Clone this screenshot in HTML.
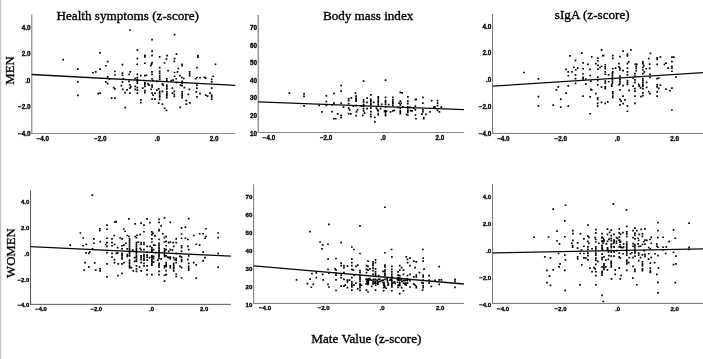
<!DOCTYPE html>
<html><head><meta charset="utf-8"><title>Figure</title>
<style>
html,body{margin:0;padding:0;background:#fff;}
body{width:703px;height:359px;overflow:hidden;}
svg{display:block;}
.t{font-family:"Liberation Serif",serif;font-size:13.4px;fill:#000;stroke:#000;stroke-width:0.35px;}
.k{font-family:"Liberation Sans",sans-serif;font-weight:bold;fill:#000;stroke:#000;stroke-width:0.3px;}
</style></head><body>
<svg width="703" height="359" viewBox="0 0 703 359">
<rect x="0" y="0" width="703" height="359" fill="#fff"/>
<rect x="0" y="0" width="1.2" height="359" fill="#c6c6c6"/>
<rect x="1.2" y="0" width="0.8" height="359" fill="#ededed"/>

<g id="panel1" style="font-size:6.3px">
<path d="M31.7 14.5V133.7" stroke="#a0a0a0" stroke-width="1.5" fill="none"/>
<path d="M30.95 133.45H235.2" stroke="#8c8c8c" stroke-width="1.0" fill="none"/>
<text class="k" x="30.4" y="29.91" transform="rotate(0.02 30.4 29.91)" text-anchor="end">4.0</text>
<text class="k" x="30.4" y="56.37" transform="rotate(0.02 30.4 56.37)" text-anchor="end">2.0</text>
<text class="k" x="30.4" y="82.83" transform="rotate(0.02 30.4 82.83)" text-anchor="end">.0</text>
<text class="k" x="30.4" y="109.29" transform="rotate(0.02 30.4 109.29)" text-anchor="end">−2.0</text>
<text class="k" x="30.4" y="135.76" transform="rotate(0.02 30.4 135.76)" text-anchor="end">−4.0</text>
<text class="k" x="42.8" y="141.16" transform="rotate(0.02 42.8 141.16)" text-anchor="middle">−4.0</text>
<text class="k" x="100.2" y="141.16" transform="rotate(0.02 100.2 141.16)" text-anchor="middle">−2.0</text>
<text class="k" x="157.5" y="141.16" transform="rotate(0.02 157.5 141.16)" text-anchor="middle">.0</text>
<text class="k" x="214.1" y="141.16" transform="rotate(0.02 214.1 141.16)" text-anchor="middle">2.0</text>
<path class="p" fill="#000" d="M129.11 29.16h1.7v1.7h-1.7zM136.50 49.22h1.7v1.7h-1.7zM99.28 52.10h1.7v1.7h-1.7zM62.30 58.87h1.7v1.7h-1.7zM136.50 57.74h1.7v1.7h-1.7zM106.80 60.75h1.7v1.7h-1.7zM104.92 64.89h1.7v1.7h-1.7zM121.59 63.76h1.7v1.7h-1.7zM136.25 63.38h1.7v1.7h-1.7zM76.96 68.27h1.7v1.7h-1.7zM99.28 68.27h1.7v1.7h-1.7zM173.74 33.80h1.7v1.7h-1.7zM151.18 38.82h1.7v1.7h-1.7zM151.18 50.22h1.7v1.7h-1.7zM175.62 53.36h1.7v1.7h-1.7zM144.03 54.61h1.7v1.7h-1.7zM144.03 56.11h1.7v1.7h-1.7zM151.18 54.86h1.7v1.7h-1.7zM158.82 56.11h1.7v1.7h-1.7zM166.22 54.86h1.7v1.7h-1.7zM165.59 58.24h1.7v1.7h-1.7zM173.74 57.74h1.7v1.7h-1.7zM173.49 60.50h1.7v1.7h-1.7zM197.05 54.86h1.7v1.7h-1.7zM197.05 56.36h1.7v1.7h-1.7zM144.03 62.38h1.7v1.7h-1.7zM151.18 61.75h1.7v1.7h-1.7zM150.67 63.26h1.7v1.7h-1.7zM149.92 64.89h1.7v1.7h-1.7zM163.71 62.13h1.7v1.7h-1.7zM181.26 63.38h1.7v1.7h-1.7zM181.26 64.89h1.7v1.7h-1.7zM214.60 63.38h1.7v1.7h-1.7zM158.82 66.77h1.7v1.7h-1.7zM177.50 67.65h1.7v1.7h-1.7zM196.05 66.77h1.7v1.7h-1.7zM92.01 71.91h1.7v1.7h-1.7zM94.89 71.03h1.7v1.7h-1.7zM114.07 70.65h1.7v1.7h-1.7zM114.07 74.16h1.7v1.7h-1.7zM121.59 72.28h1.7v1.7h-1.7zM121.59 74.41h1.7v1.7h-1.7zM129.36 71.03h1.7v1.7h-1.7zM128.36 73.54h1.7v1.7h-1.7zM136.50 73.54h1.7v1.7h-1.7zM140.01 74.79h1.7v1.7h-1.7zM106.80 76.04h1.7v1.7h-1.7zM108.68 78.18h1.7v1.7h-1.7zM122.46 77.67h1.7v1.7h-1.7zM134.37 77.67h1.7v1.7h-1.7zM136.50 76.67h1.7v1.7h-1.7zM136.50 78.55h1.7v1.7h-1.7zM136.50 80.43h1.7v1.7h-1.7zM136.50 82.31h1.7v1.7h-1.7zM76.96 81.06h1.7v1.7h-1.7zM104.92 81.06h1.7v1.7h-1.7zM106.80 82.69h1.7v1.7h-1.7zM121.59 81.06h1.7v1.7h-1.7zM128.11 80.43h1.7v1.7h-1.7zM120.58 84.82h1.7v1.7h-1.7zM129.11 83.94h1.7v1.7h-1.7zM129.99 86.07h1.7v1.7h-1.7zM129.11 87.33h1.7v1.7h-1.7zM134.37 85.45h1.7v1.7h-1.7zM112.81 86.70h1.7v1.7h-1.7zM114.07 87.95h1.7v1.7h-1.7zM121.84 88.58h1.7v1.7h-1.7zM126.23 88.96h1.7v1.7h-1.7zM134.37 88.58h1.7v1.7h-1.7zM136.50 86.70h1.7v1.7h-1.7zM136.50 89.21h1.7v1.7h-1.7zM136.50 92.34h1.7v1.7h-1.7zM141.89 87.33h1.7v1.7h-1.7zM124.34 91.71h1.7v1.7h-1.7zM129.11 92.34h1.7v1.7h-1.7zM76.96 94.47h1.7v1.7h-1.7zM97.40 92.72h1.7v1.7h-1.7zM99.28 92.34h1.7v1.7h-1.7zM110.81 97.35h1.7v1.7h-1.7zM114.07 97.35h1.7v1.7h-1.7zM140.01 98.98h1.7v1.7h-1.7zM140.01 101.74h1.7v1.7h-1.7zM124.34 106.75h1.7v1.7h-1.7zM144.03 74.79h1.7v1.7h-1.7zM145.66 74.41h1.7v1.7h-1.7zM144.03 81.68h1.7v1.7h-1.7zM144.03 83.57h1.7v1.7h-1.7zM144.03 85.45h1.7v1.7h-1.7zM144.03 89.83h1.7v1.7h-1.7zM144.03 91.71h1.7v1.7h-1.7zM147.16 82.94h1.7v1.7h-1.7zM148.17 84.19h1.7v1.7h-1.7zM151.18 71.03h1.7v1.7h-1.7zM151.18 73.54h1.7v1.7h-1.7zM151.18 77.92h1.7v1.7h-1.7zM152.18 79.80h1.7v1.7h-1.7zM151.18 84.19h1.7v1.7h-1.7zM151.18 86.07h1.7v1.7h-1.7zM150.30 88.58h1.7v1.7h-1.7zM151.18 92.34h1.7v1.7h-1.7zM152.18 94.22h1.7v1.7h-1.7zM154.06 92.34h1.7v1.7h-1.7zM151.18 98.23h1.7v1.7h-1.7zM154.06 98.23h1.7v1.7h-1.7zM158.82 70.40h1.7v1.7h-1.7zM158.82 72.28h1.7v1.7h-1.7zM158.82 74.79h1.7v1.7h-1.7zM158.82 76.67h1.7v1.7h-1.7zM158.82 78.55h1.7v1.7h-1.7zM155.94 80.43h1.7v1.7h-1.7zM157.82 87.95h1.7v1.7h-1.7zM155.94 89.21h1.7v1.7h-1.7zM158.82 90.46h1.7v1.7h-1.7zM158.82 92.34h1.7v1.7h-1.7zM158.82 94.22h1.7v1.7h-1.7zM158.82 96.10h1.7v1.7h-1.7zM158.82 98.61h1.7v1.7h-1.7zM161.58 82.94h1.7v1.7h-1.7zM162.21 84.19h1.7v1.7h-1.7zM161.58 90.46h1.7v1.7h-1.7zM157.82 102.37h1.7v1.7h-1.7zM161.58 103.24h1.7v1.7h-1.7zM167.22 69.78h1.7v1.7h-1.7zM165.97 77.92h1.7v1.7h-1.7zM165.97 79.80h1.7v1.7h-1.7zM165.97 84.19h1.7v1.7h-1.7zM165.97 86.07h1.7v1.7h-1.7zM165.97 87.95h1.7v1.7h-1.7zM165.97 91.09h1.7v1.7h-1.7zM165.97 92.97h1.7v1.7h-1.7zM165.97 94.85h1.7v1.7h-1.7zM165.97 96.73h1.7v1.7h-1.7zM171.61 87.33h1.7v1.7h-1.7zM163.71 107.38h1.7v1.7h-1.7zM165.59 109.51h1.7v1.7h-1.7zM173.74 71.66h1.7v1.7h-1.7zM176.62 71.03h1.7v1.7h-1.7zM173.74 75.42h1.7v1.7h-1.7zM175.37 77.92h1.7v1.7h-1.7zM170.35 79.80h1.7v1.7h-1.7zM172.23 79.18h1.7v1.7h-1.7zM175.74 81.68h1.7v1.7h-1.7zM173.49 90.46h1.7v1.7h-1.7zM171.61 92.34h1.7v1.7h-1.7zM173.49 93.59h1.7v1.7h-1.7zM173.49 95.47h1.7v1.7h-1.7zM179.13 74.79h1.7v1.7h-1.7zM181.01 76.67h1.7v1.7h-1.7zM182.89 77.67h1.7v1.7h-1.7zM181.26 80.43h1.7v1.7h-1.7zM181.26 82.31h1.7v1.7h-1.7zM179.75 84.19h1.7v1.7h-1.7zM181.26 84.82h1.7v1.7h-1.7zM183.51 86.70h1.7v1.7h-1.7zM181.26 91.09h1.7v1.7h-1.7zM181.26 92.97h1.7v1.7h-1.7zM181.26 94.85h1.7v1.7h-1.7zM181.26 96.73h1.7v1.7h-1.7zM179.38 106.50h1.7v1.7h-1.7zM188.78 71.03h1.7v1.7h-1.7zM188.78 72.91h1.7v1.7h-1.7zM188.78 74.79h1.7v1.7h-1.7zM188.53 88.58h1.7v1.7h-1.7zM187.53 93.59h1.7v1.7h-1.7zM185.40 99.86h1.7v1.7h-1.7zM185.40 103.24h1.7v1.7h-1.7zM189.16 101.99h1.7v1.7h-1.7zM196.05 76.67h1.7v1.7h-1.7zM194.80 77.92h1.7v1.7h-1.7zM199.18 76.92h1.7v1.7h-1.7zM196.05 84.19h1.7v1.7h-1.7zM196.05 87.33h1.7v1.7h-1.7zM195.42 91.09h1.7v1.7h-1.7zM199.18 92.72h1.7v1.7h-1.7zM196.05 96.10h1.7v1.7h-1.7zM203.57 76.42h1.7v1.7h-1.7zM204.82 77.30h1.7v1.7h-1.7zM204.82 94.22h1.7v1.7h-1.7zM206.70 95.22h1.7v1.7h-1.7zM212.34 75.42h1.7v1.7h-1.7zM210.84 78.55h1.7v1.7h-1.7zM210.84 81.06h1.7v1.7h-1.7zM210.84 87.33h1.7v1.7h-1.7zM209.21 92.34h1.7v1.7h-1.7zM210.84 94.22h1.7v1.7h-1.7zM210.84 96.10h1.7v1.7h-1.7zM210.84 98.23h1.7v1.7h-1.7z"/>
<line x1="31.7" y1="74.5" x2="235.2" y2="85.3" stroke="#0a0a0a" stroke-width="1.35"/>
</g>
<g id="panel2" style="font-size:6.3px">
<path d="M258.3 15V132.8" stroke="#9c9c9c" stroke-width="1.6" fill="none"/>
<path d="M257.50 132.5H464.1" stroke="#8c8c8c" stroke-width="1.0" fill="none"/>
<text class="k" x="257.0" y="30.21" transform="rotate(0.02 257.0 30.21)" text-anchor="end">70</text>
<text class="k" x="257.0" y="47.77" transform="rotate(0.02 257.0 47.77)" text-anchor="end">60</text>
<text class="k" x="257.0" y="65.34" transform="rotate(0.02 257.0 65.34)" text-anchor="end">50</text>
<text class="k" x="257.0" y="82.91" transform="rotate(0.02 257.0 82.91)" text-anchor="end">40</text>
<text class="k" x="257.0" y="100.47" transform="rotate(0.02 257.0 100.47)" text-anchor="end">30</text>
<text class="k" x="257.0" y="118.04" transform="rotate(0.02 257.0 118.04)" text-anchor="end">20</text>
<text class="k" x="257.0" y="135.61" transform="rotate(0.02 257.0 135.61)" text-anchor="end">10</text>
<text class="k" x="269.0" y="140.01" transform="rotate(0.02 269.0 140.01)" text-anchor="middle">−4.0</text>
<text class="k" x="326.1" y="140.01" transform="rotate(0.02 326.1 140.01)" text-anchor="middle">−2.0</text>
<text class="k" x="383.2" y="140.01" transform="rotate(0.02 383.2 140.01)" text-anchor="middle">.0</text>
<text class="k" x="440.0" y="140.01" transform="rotate(0.02 440.0 140.01)" text-anchor="middle">2.0</text>
<path class="p" fill="#000" d="M362.74 80.28h1.7v1.7h-1.7zM340.31 84.67h1.7v1.7h-1.7zM340.31 90.31h1.7v1.7h-1.7zM288.54 92.19h1.7v1.7h-1.7zM303.20 93.07h1.7v1.7h-1.7zM303.20 95.58h1.7v1.7h-1.7zM325.51 94.95h1.7v1.7h-1.7zM333.04 92.57h1.7v1.7h-1.7zM354.60 92.19h1.7v1.7h-1.7zM370.01 94.07h1.7v1.7h-1.7zM355.22 95.33h1.7v1.7h-1.7zM355.22 97.21h1.7v1.7h-1.7zM355.22 99.09h1.7v1.7h-1.7zM355.22 100.34h1.7v1.7h-1.7zM350.58 96.96h1.7v1.7h-1.7zM347.83 97.83h1.7v1.7h-1.7zM347.83 99.71h1.7v1.7h-1.7zM366.25 97.21h1.7v1.7h-1.7zM362.74 99.09h1.7v1.7h-1.7zM362.74 100.97h1.7v1.7h-1.7zM370.01 98.46h1.7v1.7h-1.7zM370.01 100.34h1.7v1.7h-1.7zM370.01 102.22h1.7v1.7h-1.7zM366.25 101.59h1.7v1.7h-1.7zM325.51 100.72h1.7v1.7h-1.7zM333.04 102.22h1.7v1.7h-1.7zM340.31 102.22h1.7v1.7h-1.7zM347.83 102.85h1.7v1.7h-1.7zM303.20 104.98h1.7v1.7h-1.7zM318.24 104.48h1.7v1.7h-1.7zM325.51 104.48h1.7v1.7h-1.7zM331.16 104.10h1.7v1.7h-1.7zM342.69 106.23h1.7v1.7h-1.7zM347.83 107.23h1.7v1.7h-1.7zM348.70 109.11h1.7v1.7h-1.7zM352.46 105.35h1.7v1.7h-1.7zM355.22 104.73h1.7v1.7h-1.7zM360.61 105.35h1.7v1.7h-1.7zM362.74 103.47h1.7v1.7h-1.7zM362.74 105.35h1.7v1.7h-1.7zM362.74 107.86h1.7v1.7h-1.7zM362.74 109.99h1.7v1.7h-1.7zM363.75 112.25h1.7v1.7h-1.7zM366.25 107.86h1.7v1.7h-1.7zM370.01 104.10h1.7v1.7h-1.7zM370.01 107.23h1.7v1.7h-1.7zM370.01 110.74h1.7v1.7h-1.7zM370.01 113.50h1.7v1.7h-1.7zM370.01 115.76h1.7v1.7h-1.7zM356.60 109.11h1.7v1.7h-1.7zM355.60 110.99h1.7v1.7h-1.7zM321.13 110.99h1.7v1.7h-1.7zM331.16 110.74h1.7v1.7h-1.7zM336.80 113.12h1.7v1.7h-1.7zM340.31 114.50h1.7v1.7h-1.7zM340.31 116.63h1.7v1.7h-1.7zM347.83 112.87h1.7v1.7h-1.7zM349.96 113.12h1.7v1.7h-1.7zM355.22 114.75h1.7v1.7h-1.7zM361.87 114.50h1.7v1.7h-1.7zM333.04 117.89h1.7v1.7h-1.7zM334.92 117.89h1.7v1.7h-1.7zM384.68 79.28h1.7v1.7h-1.7zM374.03 116.63h1.7v1.7h-1.7zM374.03 121.02h1.7v1.7h-1.7zM372.78 101.59h1.7v1.7h-1.7zM377.41 95.95h1.7v1.7h-1.7zM377.41 97.83h1.7v1.7h-1.7zM377.41 99.71h1.7v1.7h-1.7zM377.41 101.59h1.7v1.7h-1.7zM377.41 103.47h1.7v1.7h-1.7zM377.41 105.35h1.7v1.7h-1.7zM376.54 109.11h1.7v1.7h-1.7zM377.41 109.99h1.7v1.7h-1.7zM377.41 112.87h1.7v1.7h-1.7zM377.41 114.13h1.7v1.7h-1.7zM380.92 103.47h1.7v1.7h-1.7zM379.67 107.86h1.7v1.7h-1.7zM375.66 107.23h1.7v1.7h-1.7zM384.68 96.58h1.7v1.7h-1.7zM384.68 99.71h1.7v1.7h-1.7zM384.68 101.59h1.7v1.7h-1.7zM384.68 103.47h1.7v1.7h-1.7zM387.82 103.85h1.7v1.7h-1.7zM384.68 105.98h1.7v1.7h-1.7zM384.68 109.74h1.7v1.7h-1.7zM384.68 111.62h1.7v1.7h-1.7zM384.68 113.50h1.7v1.7h-1.7zM384.68 114.75h1.7v1.7h-1.7zM383.68 110.37h1.7v1.7h-1.7zM385.69 110.37h1.7v1.7h-1.7zM391.96 96.58h1.7v1.7h-1.7zM391.96 99.09h1.7v1.7h-1.7zM391.96 100.97h1.7v1.7h-1.7zM391.96 102.85h1.7v1.7h-1.7zM391.96 104.73h1.7v1.7h-1.7zM389.70 110.99h1.7v1.7h-1.7zM391.96 109.99h1.7v1.7h-1.7zM393.46 109.49h1.7v1.7h-1.7zM399.48 91.57h1.7v1.7h-1.7zM401.23 91.94h1.7v1.7h-1.7zM399.48 100.34h1.7v1.7h-1.7zM398.22 102.22h1.7v1.7h-1.7zM400.35 102.22h1.7v1.7h-1.7zM399.48 104.10h1.7v1.7h-1.7zM397.22 106.61h1.7v1.7h-1.7zM399.48 107.23h1.7v1.7h-1.7zM399.48 109.74h1.7v1.7h-1.7zM399.48 111.62h1.7v1.7h-1.7zM399.48 112.87h1.7v1.7h-1.7zM402.23 105.98h1.7v1.7h-1.7zM407.00 95.95h1.7v1.7h-1.7zM407.00 100.34h1.7v1.7h-1.7zM407.00 102.85h1.7v1.7h-1.7zM407.00 105.98h1.7v1.7h-1.7zM407.00 107.86h1.7v1.7h-1.7zM407.00 109.74h1.7v1.7h-1.7zM407.00 111.62h1.7v1.7h-1.7zM405.74 113.50h1.7v1.7h-1.7zM407.00 114.13h1.7v1.7h-1.7zM409.75 109.74h1.7v1.7h-1.7zM411.26 109.99h1.7v1.7h-1.7zM409.13 106.61h1.7v1.7h-1.7zM414.52 98.71h1.7v1.7h-1.7zM415.40 98.46h1.7v1.7h-1.7zM414.52 105.35h1.7v1.7h-1.7zM412.89 107.23h1.7v1.7h-1.7zM414.52 109.11h1.7v1.7h-1.7zM414.52 114.13h1.7v1.7h-1.7zM415.14 117.89h1.7v1.7h-1.7zM422.04 96.58h1.7v1.7h-1.7zM422.04 102.22h1.7v1.7h-1.7zM422.04 109.11h1.7v1.7h-1.7zM422.04 110.99h1.7v1.7h-1.7zM421.04 113.25h1.7v1.7h-1.7zM422.92 116.63h1.7v1.7h-1.7zM422.92 117.89h1.7v1.7h-1.7zM425.05 113.50h1.7v1.7h-1.7zM430.81 99.71h1.7v1.7h-1.7zM429.18 110.99h1.7v1.7h-1.7zM432.94 106.61h1.7v1.7h-1.7zM434.20 105.98h1.7v1.7h-1.7zM436.70 99.71h1.7v1.7h-1.7zM436.70 102.22h1.7v1.7h-1.7zM436.70 104.73h1.7v1.7h-1.7zM440.46 106.23h1.7v1.7h-1.7zM436.70 109.49h1.7v1.7h-1.7zM438.58 110.99h1.7v1.7h-1.7z"/>
<line x1="258.3" y1="101.8" x2="463.9" y2="109.6" stroke="#0a0a0a" stroke-width="1.35"/>
</g>
<g id="panel3" style="font-size:6.3px">
<path d="M492.55 13.9V133.7" stroke="#777" stroke-width="1.0" fill="none"/>
<path d="M492.05 133.4H703" stroke="#777" stroke-width="1.0" fill="none"/>
<text class="k" x="491.2" y="28.71" transform="rotate(0.02 491.2 28.71)" text-anchor="end">4.0</text>
<text class="k" x="491.2" y="55.44" transform="rotate(0.02 491.2 55.44)" text-anchor="end">2.0</text>
<text class="k" x="491.2" y="82.18" transform="rotate(0.02 491.2 82.18)" text-anchor="end">.0</text>
<text class="k" x="491.2" y="108.92" transform="rotate(0.02 491.2 108.92)" text-anchor="end">−2.0</text>
<text class="k" x="491.2" y="135.66" transform="rotate(0.02 491.2 135.66)" text-anchor="end">−4.0</text>
<text class="k" x="503.4" y="141.41" transform="rotate(0.02 503.4 141.41)" text-anchor="middle">−4.0</text>
<text class="k" x="560.8" y="141.41" transform="rotate(0.02 560.8 141.41)" text-anchor="middle">−2.0</text>
<text class="k" x="617.4" y="141.41" transform="rotate(0.02 617.4 141.41)" text-anchor="middle">.0</text>
<text class="k" x="674.6" y="141.41" transform="rotate(0.02 674.6 141.41)" text-anchor="middle">2.0</text>
<path class="p" fill="#000" d="M600.64 49.09h1.7v1.7h-1.7zM580.96 52.22h1.7v1.7h-1.7zM569.05 55.10h1.7v1.7h-1.7zM590.86 55.98h1.7v1.7h-1.7zM596.88 57.23h1.7v1.7h-1.7zM596.88 59.99h1.7v1.7h-1.7zM574.69 59.49h1.7v1.7h-1.7zM582.21 62.00h1.7v1.7h-1.7zM587.10 63.50h1.7v1.7h-1.7zM595.00 62.87h1.7v1.7h-1.7zM597.13 64.50h1.7v1.7h-1.7zM600.64 65.38h1.7v1.7h-1.7zM573.06 66.38h1.7v1.7h-1.7zM576.82 67.26h1.7v1.7h-1.7zM574.94 68.89h1.7v1.7h-1.7zM565.29 68.51h1.7v1.7h-1.7zM582.21 67.89h1.7v1.7h-1.7zM589.11 68.51h1.7v1.7h-1.7zM597.13 68.26h1.7v1.7h-1.7zM599.14 66.63h1.7v1.7h-1.7zM567.42 71.02h1.7v1.7h-1.7zM571.18 71.02h1.7v1.7h-1.7zM522.92 71.65h1.7v1.7h-1.7zM601.89 54.73h1.7v1.7h-1.7zM629.98 49.09h1.7v1.7h-1.7zM622.21 50.34h1.7v1.7h-1.7zM626.59 53.22h1.7v1.7h-1.7zM626.59 54.98h1.7v1.7h-1.7zM649.53 52.60h1.7v1.7h-1.7zM602.78 54.73h1.7v1.7h-1.7zM611.93 54.73h1.7v1.7h-1.7zM611.93 57.61h1.7v1.7h-1.7zM619.07 55.73h1.7v1.7h-1.7zM647.90 57.86h1.7v1.7h-1.7zM656.30 56.98h1.7v1.7h-1.7zM656.30 58.49h1.7v1.7h-1.7zM659.56 55.98h1.7v1.7h-1.7zM671.09 56.36h1.7v1.7h-1.7zM672.97 56.36h1.7v1.7h-1.7zM671.09 60.74h1.7v1.7h-1.7zM627.85 60.99h1.7v1.7h-1.7zM626.59 62.87h1.7v1.7h-1.7zM642.01 60.99h1.7v1.7h-1.7zM642.01 62.87h1.7v1.7h-1.7zM634.49 63.25h1.7v1.7h-1.7zM635.99 63.50h1.7v1.7h-1.7zM648.78 63.25h1.7v1.7h-1.7zM656.30 63.50h1.7v1.7h-1.7zM665.20 62.25h1.7v1.7h-1.7zM663.57 63.50h1.7v1.7h-1.7zM618.19 62.87h1.7v1.7h-1.7zM604.41 63.88h1.7v1.7h-1.7zM604.41 66.01h1.7v1.7h-1.7zM604.41 67.89h1.7v1.7h-1.7zM671.09 65.38h1.7v1.7h-1.7zM671.09 67.26h1.7v1.7h-1.7zM667.33 67.26h1.7v1.7h-1.7zM642.89 64.75h1.7v1.7h-1.7zM642.01 66.63h1.7v1.7h-1.7zM642.01 69.14h1.7v1.7h-1.7zM643.51 71.02h1.7v1.7h-1.7zM645.40 67.89h1.7v1.7h-1.7zM648.78 67.51h1.7v1.7h-1.7zM635.37 65.38h1.7v1.7h-1.7zM635.37 67.26h1.7v1.7h-1.7zM635.37 69.77h1.7v1.7h-1.7zM626.59 67.26h1.7v1.7h-1.7zM626.59 71.02h1.7v1.7h-1.7zM618.19 66.01h1.7v1.7h-1.7zM619.07 67.26h1.7v1.7h-1.7zM619.07 69.14h1.7v1.7h-1.7zM614.68 67.26h1.7v1.7h-1.7zM611.93 67.89h1.7v1.7h-1.7zM622.21 69.77h1.7v1.7h-1.7zM611.93 71.02h1.7v1.7h-1.7zM671.09 70.40h1.7v1.7h-1.7zM604.41 71.02h1.7v1.7h-1.7zM537.59 78.04h1.7v1.7h-1.7zM567.42 74.91h1.7v1.7h-1.7zM574.69 74.03h1.7v1.7h-1.7zM574.69 77.79h1.7v1.7h-1.7zM582.21 73.15h1.7v1.7h-1.7zM582.21 76.54h1.7v1.7h-1.7zM582.21 78.17h1.7v1.7h-1.7zM589.36 74.66h1.7v1.7h-1.7zM584.97 78.17h1.7v1.7h-1.7zM596.88 76.29h1.7v1.7h-1.7zM596.88 79.67h1.7v1.7h-1.7zM589.99 80.30h1.7v1.7h-1.7zM574.69 82.55h1.7v1.7h-1.7zM584.97 83.18h1.7v1.7h-1.7zM596.88 84.06h1.7v1.7h-1.7zM600.64 86.19h1.7v1.7h-1.7zM567.42 85.06h1.7v1.7h-1.7zM557.40 85.94h1.7v1.7h-1.7zM555.51 89.07h1.7v1.7h-1.7zM565.29 92.21h1.7v1.7h-1.7zM589.99 88.45h1.7v1.7h-1.7zM590.86 89.07h1.7v1.7h-1.7zM595.00 92.83h1.7v1.7h-1.7zM582.21 95.34h1.7v1.7h-1.7zM589.36 95.97h1.7v1.7h-1.7zM596.88 96.97h1.7v1.7h-1.7zM596.88 98.47h1.7v1.7h-1.7zM537.59 95.72h1.7v1.7h-1.7zM559.90 98.22h1.7v1.7h-1.7zM600.64 101.61h1.7v1.7h-1.7zM596.88 102.61h1.7v1.7h-1.7zM596.88 105.37h1.7v1.7h-1.7zM537.59 104.99h1.7v1.7h-1.7zM552.38 104.36h1.7v1.7h-1.7zM559.90 106.24h1.7v1.7h-1.7zM567.42 105.37h1.7v1.7h-1.7zM589.36 112.89h1.7v1.7h-1.7zM604.41 73.40h1.7v1.7h-1.7zM604.41 80.30h1.7v1.7h-1.7zM604.41 82.18h1.7v1.7h-1.7zM604.41 85.94h1.7v1.7h-1.7zM604.41 87.82h1.7v1.7h-1.7zM607.79 74.03h1.7v1.7h-1.7zM607.79 80.92h1.7v1.7h-1.7zM606.91 100.98h1.7v1.7h-1.7zM604.41 102.61h1.7v1.7h-1.7zM611.55 72.78h1.7v1.7h-1.7zM611.55 74.66h1.7v1.7h-1.7zM611.55 76.54h1.7v1.7h-1.7zM611.55 78.42h1.7v1.7h-1.7zM611.55 80.30h1.7v1.7h-1.7zM611.55 82.18h1.7v1.7h-1.7zM610.92 84.06h1.7v1.7h-1.7zM610.92 85.31h1.7v1.7h-1.7zM611.93 90.95h1.7v1.7h-1.7zM611.93 92.83h1.7v1.7h-1.7zM611.93 95.34h1.7v1.7h-1.7zM611.93 96.59h1.7v1.7h-1.7zM619.07 75.28h1.7v1.7h-1.7zM619.07 77.16h1.7v1.7h-1.7zM619.07 79.04h1.7v1.7h-1.7zM619.07 80.92h1.7v1.7h-1.7zM619.07 82.80h1.7v1.7h-1.7zM618.19 84.06h1.7v1.7h-1.7zM622.21 84.68h1.7v1.7h-1.7zM619.07 89.07h1.7v1.7h-1.7zM622.21 95.34h1.7v1.7h-1.7zM619.07 98.47h1.7v1.7h-1.7zM620.33 100.35h1.7v1.7h-1.7zM624.09 99.10h1.7v1.7h-1.7zM622.21 102.86h1.7v1.7h-1.7zM619.07 104.11h1.7v1.7h-1.7zM626.59 74.03h1.7v1.7h-1.7zM626.59 79.67h1.7v1.7h-1.7zM626.59 81.55h1.7v1.7h-1.7zM626.59 83.43h1.7v1.7h-1.7zM628.22 89.45h1.7v1.7h-1.7zM626.59 104.99h1.7v1.7h-1.7zM626.59 110.38h1.7v1.7h-1.7zM634.11 72.78h1.7v1.7h-1.7zM634.11 75.28h1.7v1.7h-1.7zM632.23 77.16h1.7v1.7h-1.7zM634.11 79.04h1.7v1.7h-1.7zM634.11 81.55h1.7v1.7h-1.7zM632.23 85.31h1.7v1.7h-1.7zM634.11 87.82h1.7v1.7h-1.7zM634.11 90.33h1.7v1.7h-1.7zM634.11 95.34h1.7v1.7h-1.7zM634.11 102.61h1.7v1.7h-1.7zM642.01 72.78h1.7v1.7h-1.7zM642.01 77.79h1.7v1.7h-1.7zM642.01 79.67h1.7v1.7h-1.7zM642.01 81.55h1.7v1.7h-1.7zM642.01 83.43h1.7v1.7h-1.7zM642.01 85.31h1.7v1.7h-1.7zM637.87 83.43h1.7v1.7h-1.7zM638.50 85.31h1.7v1.7h-1.7zM639.75 86.94h1.7v1.7h-1.7zM642.01 87.82h1.7v1.7h-1.7zM642.01 91.96h1.7v1.7h-1.7zM642.01 94.71h1.7v1.7h-1.7zM640.13 95.72h1.7v1.7h-1.7zM645.77 81.55h1.7v1.7h-1.7zM645.77 86.57h1.7v1.7h-1.7zM649.16 73.40h1.7v1.7h-1.7zM649.16 76.54h1.7v1.7h-1.7zM647.90 90.70h1.7v1.7h-1.7zM649.16 92.83h1.7v1.7h-1.7zM656.30 77.79h1.7v1.7h-1.7zM657.93 77.16h1.7v1.7h-1.7zM656.30 84.06h1.7v1.7h-1.7zM656.30 85.94h1.7v1.7h-1.7zM657.93 87.44h1.7v1.7h-1.7zM659.56 84.31h1.7v1.7h-1.7zM656.30 90.95h1.7v1.7h-1.7zM656.30 95.34h1.7v1.7h-1.7zM665.20 88.19h1.7v1.7h-1.7zM669.21 89.70h1.7v1.7h-1.7zM671.09 87.19h1.7v1.7h-1.7zM675.10 76.29h1.7v1.7h-1.7zM671.09 109.13h1.7v1.7h-1.7z"/>
<line x1="492.5" y1="86.2" x2="703" y2="72.6" stroke="#0a0a0a" stroke-width="1.35"/>
</g>
<g id="panel4" style="font-size:5.9px">
<path d="M30.55 190.4V304.7" stroke="#555" stroke-width="1.0" fill="none"/>
<path d="M30.05 304.35H230.9" stroke="#555" stroke-width="1.0" fill="none"/>
<text class="k" x="29.2" y="204.31" transform="rotate(0.02 29.2 204.31)" text-anchor="end">4.0</text>
<text class="k" x="29.2" y="230.07" transform="rotate(0.02 29.2 230.07)" text-anchor="end">2.0</text>
<text class="k" x="29.2" y="255.84" transform="rotate(0.02 29.2 255.84)" text-anchor="end">.0</text>
<text class="k" x="29.2" y="281.60" transform="rotate(0.02 29.2 281.60)" text-anchor="end">−2.0</text>
<text class="k" x="29.2" y="307.36" transform="rotate(0.02 29.2 307.36)" text-anchor="end">−4.0</text>
<text class="k" x="41.1" y="310.86" transform="rotate(0.02 41.1 310.86)" text-anchor="middle">−4.0</text>
<text class="k" x="96.3" y="310.86" transform="rotate(0.02 96.3 310.86)" text-anchor="middle">−2.0</text>
<text class="k" x="151.6" y="310.86" transform="rotate(0.02 151.6 310.86)" text-anchor="middle">.0</text>
<text class="k" x="204.2" y="310.86" transform="rotate(0.02 204.2 310.86)" text-anchor="middle">2.0</text>
<path class="p" fill="#000" d="M91.48 194.28h1.7v1.7h-1.7zM128.08 218.10h1.7v1.7h-1.7zM146.25 218.10h1.7v1.7h-1.7zM114.04 221.23h1.7v1.7h-1.7zM115.29 220.86h1.7v1.7h-1.7zM134.34 223.11h1.7v1.7h-1.7zM140.24 222.24h1.7v1.7h-1.7zM149.14 221.86h1.7v1.7h-1.7zM143.12 224.37h1.7v1.7h-1.7zM106.14 224.37h1.7v1.7h-1.7zM106.14 228.38h1.7v1.7h-1.7zM99.00 227.88h1.7v1.7h-1.7zM99.00 229.76h1.7v1.7h-1.7zM122.81 228.13h1.7v1.7h-1.7zM124.32 230.38h1.7v1.7h-1.7zM143.12 230.89h1.7v1.7h-1.7zM151.02 231.01h1.7v1.7h-1.7zM79.57 232.14h1.7v1.7h-1.7zM113.41 234.65h1.7v1.7h-1.7zM126.45 234.65h1.7v1.7h-1.7zM128.08 235.65h1.7v1.7h-1.7zM136.23 234.40h1.7v1.7h-1.7zM139.36 233.77h1.7v1.7h-1.7zM151.02 233.77h1.7v1.7h-1.7zM134.34 235.65h1.7v1.7h-1.7zM163.68 217.10h1.7v1.7h-1.7zM158.17 218.48h1.7v1.7h-1.7zM158.17 221.61h1.7v1.7h-1.7zM169.45 221.61h1.7v1.7h-1.7zM187.87 217.85h1.7v1.7h-1.7zM160.30 224.99h1.7v1.7h-1.7zM158.17 228.75h1.7v1.7h-1.7zM158.17 229.76h1.7v1.7h-1.7zM180.73 227.12h1.7v1.7h-1.7zM184.49 226.25h1.7v1.7h-1.7zM205.05 227.88h1.7v1.7h-1.7zM161.93 232.89h1.7v1.7h-1.7zM180.73 233.14h1.7v1.7h-1.7zM198.78 232.89h1.7v1.7h-1.7zM202.29 232.89h1.7v1.7h-1.7zM217.33 232.14h1.7v1.7h-1.7zM192.89 234.65h1.7v1.7h-1.7zM154.03 235.02h1.7v1.7h-1.7zM165.31 235.65h1.7v1.7h-1.7zM205.05 235.65h1.7v1.7h-1.7zM152.15 232.51h1.7v1.7h-1.7zM82.33 237.15h1.7v1.7h-1.7zM92.98 238.03h1.7v1.7h-1.7zM92.98 242.42h1.7v1.7h-1.7zM99.50 240.79h1.7v1.7h-1.7zM69.41 244.30h1.7v1.7h-1.7zM82.33 244.92h1.7v1.7h-1.7zM85.46 243.42h1.7v1.7h-1.7zM91.73 248.06h1.7v1.7h-1.7zM85.21 252.07h1.7v1.7h-1.7zM87.97 252.45h1.7v1.7h-1.7zM88.84 251.19h1.7v1.7h-1.7zM84.21 261.85h1.7v1.7h-1.7zM93.86 262.10h1.7v1.7h-1.7zM87.97 265.98h1.7v1.7h-1.7zM83.33 269.37h1.7v1.7h-1.7zM94.86 269.37h1.7v1.7h-1.7zM99.25 268.11h1.7v1.7h-1.7zM99.25 269.99h1.7v1.7h-1.7zM106.14 263.10h1.7v1.7h-1.7zM106.14 276.01h1.7v1.7h-1.7zM117.05 274.76h1.7v1.7h-1.7zM121.18 272.50h1.7v1.7h-1.7zM106.14 237.40h1.7v1.7h-1.7zM106.14 241.79h1.7v1.7h-1.7zM104.89 243.67h1.7v1.7h-1.7zM106.14 245.55h1.7v1.7h-1.7zM106.14 251.82h1.7v1.7h-1.7zM111.16 238.03h1.7v1.7h-1.7zM111.16 241.79h1.7v1.7h-1.7zM111.16 244.92h1.7v1.7h-1.7zM113.66 243.67h1.7v1.7h-1.7zM111.16 252.45h1.7v1.7h-1.7zM111.16 256.21h1.7v1.7h-1.7zM113.66 258.71h1.7v1.7h-1.7zM113.66 261.85h1.7v1.7h-1.7zM116.80 246.80h1.7v1.7h-1.7zM115.54 252.45h1.7v1.7h-1.7zM116.80 252.07h1.7v1.7h-1.7zM117.42 263.10h1.7v1.7h-1.7zM121.18 238.03h1.7v1.7h-1.7zM121.18 244.92h1.7v1.7h-1.7zM123.06 244.30h1.7v1.7h-1.7zM121.18 248.06h1.7v1.7h-1.7zM121.18 252.45h1.7v1.7h-1.7zM121.18 254.33h1.7v1.7h-1.7zM121.18 256.21h1.7v1.7h-1.7zM121.18 258.09h1.7v1.7h-1.7zM121.18 263.10h1.7v1.7h-1.7zM123.06 261.85h1.7v1.7h-1.7zM119.30 237.15h1.7v1.7h-1.7zM124.94 242.42h1.7v1.7h-1.7zM126.45 248.06h1.7v1.7h-1.7zM126.45 253.70h1.7v1.7h-1.7zM126.45 255.58h1.7v1.7h-1.7zM128.70 238.03h1.7v1.7h-1.7zM128.70 239.91h1.7v1.7h-1.7zM128.70 241.79h1.7v1.7h-1.7zM128.70 243.67h1.7v1.7h-1.7zM128.70 245.55h1.7v1.7h-1.7zM128.70 247.43h1.7v1.7h-1.7zM128.70 249.31h1.7v1.7h-1.7zM128.70 251.19h1.7v1.7h-1.7zM128.70 253.07h1.7v1.7h-1.7zM128.70 254.95h1.7v1.7h-1.7zM128.70 259.34h1.7v1.7h-1.7zM128.70 261.22h1.7v1.7h-1.7zM128.70 263.10h1.7v1.7h-1.7zM128.70 264.98h1.7v1.7h-1.7zM128.70 266.86h1.7v1.7h-1.7zM130.58 266.86h1.7v1.7h-1.7zM132.46 269.99h1.7v1.7h-1.7zM131.84 249.31h1.7v1.7h-1.7zM135.60 236.78h1.7v1.7h-1.7zM135.60 241.79h1.7v1.7h-1.7zM135.60 243.67h1.7v1.7h-1.7zM135.60 245.55h1.7v1.7h-1.7zM135.60 247.43h1.7v1.7h-1.7zM135.60 249.31h1.7v1.7h-1.7zM135.60 251.19h1.7v1.7h-1.7zM135.60 253.07h1.7v1.7h-1.7zM135.60 254.95h1.7v1.7h-1.7zM135.60 256.83h1.7v1.7h-1.7zM135.60 258.71h1.7v1.7h-1.7zM135.60 260.59h1.7v1.7h-1.7zM135.60 264.98h1.7v1.7h-1.7zM135.60 268.11h1.7v1.7h-1.7zM135.60 270.62h1.7v1.7h-1.7zM137.48 241.16h1.7v1.7h-1.7zM133.72 256.83h1.7v1.7h-1.7zM133.72 260.59h1.7v1.7h-1.7zM140.24 241.79h1.7v1.7h-1.7zM140.24 243.67h1.7v1.7h-1.7zM139.36 247.43h1.7v1.7h-1.7zM140.24 248.68h1.7v1.7h-1.7zM140.24 254.95h1.7v1.7h-1.7zM140.24 256.83h1.7v1.7h-1.7zM140.24 258.71h1.7v1.7h-1.7zM140.24 261.85h1.7v1.7h-1.7zM138.73 266.23h1.7v1.7h-1.7zM140.24 269.99h1.7v1.7h-1.7zM143.12 241.79h1.7v1.7h-1.7zM143.12 243.67h1.7v1.7h-1.7zM143.12 248.68h1.7v1.7h-1.7zM143.12 253.70h1.7v1.7h-1.7zM143.12 255.58h1.7v1.7h-1.7zM143.12 257.46h1.7v1.7h-1.7zM143.12 259.34h1.7v1.7h-1.7zM143.12 262.47h1.7v1.7h-1.7zM143.12 264.98h1.7v1.7h-1.7zM146.25 245.55h1.7v1.7h-1.7zM146.25 251.19h1.7v1.7h-1.7zM146.25 254.33h1.7v1.7h-1.7zM146.25 256.21h1.7v1.7h-1.7zM146.25 259.34h1.7v1.7h-1.7zM146.25 264.98h1.7v1.7h-1.7zM146.25 269.37h1.7v1.7h-1.7zM146.25 273.75h1.7v1.7h-1.7zM151.02 238.03h1.7v1.7h-1.7zM151.02 241.16h1.7v1.7h-1.7zM149.39 245.55h1.7v1.7h-1.7zM151.02 246.80h1.7v1.7h-1.7zM151.02 248.68h1.7v1.7h-1.7zM151.02 250.57h1.7v1.7h-1.7zM151.02 254.95h1.7v1.7h-1.7zM151.02 256.83h1.7v1.7h-1.7zM151.02 258.71h1.7v1.7h-1.7zM151.02 260.59h1.7v1.7h-1.7zM151.02 262.47h1.7v1.7h-1.7zM151.02 264.35h1.7v1.7h-1.7zM151.02 273.75h1.7v1.7h-1.7zM148.76 256.83h1.7v1.7h-1.7zM152.78 244.30h1.7v1.7h-1.7zM152.78 248.68h1.7v1.7h-1.7zM152.78 255.58h1.7v1.7h-1.7zM152.78 257.46h1.7v1.7h-1.7zM152.78 261.22h1.7v1.7h-1.7zM154.03 244.30h1.7v1.7h-1.7zM154.66 251.82h1.7v1.7h-1.7zM158.17 238.66h1.7v1.7h-1.7zM158.17 242.42h1.7v1.7h-1.7zM158.17 244.30h1.7v1.7h-1.7zM158.17 246.18h1.7v1.7h-1.7zM158.17 248.06h1.7v1.7h-1.7zM158.17 249.94h1.7v1.7h-1.7zM158.17 251.82h1.7v1.7h-1.7zM158.17 253.70h1.7v1.7h-1.7zM158.17 255.58h1.7v1.7h-1.7zM158.17 257.46h1.7v1.7h-1.7zM156.91 259.34h1.7v1.7h-1.7zM158.17 262.47h1.7v1.7h-1.7zM158.17 264.35h1.7v1.7h-1.7zM158.17 266.23h1.7v1.7h-1.7zM158.17 270.62h1.7v1.7h-1.7zM158.17 273.75h1.7v1.7h-1.7zM160.30 258.09h1.7v1.7h-1.7zM163.68 236.78h1.7v1.7h-1.7zM163.68 241.16h1.7v1.7h-1.7zM165.31 240.54h1.7v1.7h-1.7zM165.31 244.92h1.7v1.7h-1.7zM163.68 248.06h1.7v1.7h-1.7zM163.68 249.94h1.7v1.7h-1.7zM163.68 251.82h1.7v1.7h-1.7zM163.68 253.70h1.7v1.7h-1.7zM163.68 255.58h1.7v1.7h-1.7zM165.31 248.68h1.7v1.7h-1.7zM165.31 254.95h1.7v1.7h-1.7zM163.68 264.98h1.7v1.7h-1.7zM163.68 266.86h1.7v1.7h-1.7zM165.31 261.85h1.7v1.7h-1.7zM165.31 263.73h1.7v1.7h-1.7zM165.31 265.61h1.7v1.7h-1.7zM165.31 269.74h1.7v1.7h-1.7zM163.68 274.38h1.7v1.7h-1.7zM165.31 273.75h1.7v1.7h-1.7zM163.68 280.27h1.7v1.7h-1.7zM167.82 241.79h1.7v1.7h-1.7zM169.45 241.16h1.7v1.7h-1.7zM169.45 248.68h1.7v1.7h-1.7zM167.82 250.57h1.7v1.7h-1.7zM167.82 256.83h1.7v1.7h-1.7zM169.45 256.21h1.7v1.7h-1.7zM169.45 258.09h1.7v1.7h-1.7zM169.45 264.98h1.7v1.7h-1.7zM169.45 266.86h1.7v1.7h-1.7zM166.94 256.21h1.7v1.7h-1.7zM172.21 241.79h1.7v1.7h-1.7zM172.83 245.55h1.7v1.7h-1.7zM175.34 238.03h1.7v1.7h-1.7zM175.34 241.79h1.7v1.7h-1.7zM171.58 249.31h1.7v1.7h-1.7zM172.83 256.83h1.7v1.7h-1.7zM175.34 252.45h1.7v1.7h-1.7zM175.34 257.46h1.7v1.7h-1.7zM175.34 259.34h1.7v1.7h-1.7zM172.83 262.47h1.7v1.7h-1.7zM172.83 264.35h1.7v1.7h-1.7zM172.83 266.23h1.7v1.7h-1.7zM172.83 268.11h1.7v1.7h-1.7zM172.83 269.99h1.7v1.7h-1.7zM175.34 261.85h1.7v1.7h-1.7zM175.34 273.13h1.7v1.7h-1.7zM175.34 275.63h1.7v1.7h-1.7zM173.71 258.71h1.7v1.7h-1.7zM180.73 237.40h1.7v1.7h-1.7zM180.73 244.92h1.7v1.7h-1.7zM180.73 246.80h1.7v1.7h-1.7zM180.73 250.57h1.7v1.7h-1.7zM179.10 255.58h1.7v1.7h-1.7zM180.73 256.21h1.7v1.7h-1.7zM180.73 258.71h1.7v1.7h-1.7zM180.73 260.59h1.7v1.7h-1.7zM179.10 265.61h1.7v1.7h-1.7zM180.73 266.86h1.7v1.7h-1.7zM180.73 277.14h1.7v1.7h-1.7zM184.49 237.40h1.7v1.7h-1.7zM187.00 238.66h1.7v1.7h-1.7zM187.00 245.55h1.7v1.7h-1.7zM187.87 248.68h1.7v1.7h-1.7zM187.87 254.95h1.7v1.7h-1.7zM187.00 258.71h1.7v1.7h-1.7zM187.87 262.47h1.7v1.7h-1.7zM187.87 265.61h1.7v1.7h-1.7zM187.87 267.49h1.7v1.7h-1.7zM187.87 269.37h1.7v1.7h-1.7zM195.40 243.42h1.7v1.7h-1.7zM198.78 244.30h1.7v1.7h-1.7zM204.17 237.40h1.7v1.7h-1.7zM217.33 236.78h1.7v1.7h-1.7zM202.29 251.19h1.7v1.7h-1.7zM217.33 252.45h1.7v1.7h-1.7zM204.17 256.83h1.7v1.7h-1.7zM202.29 259.97h1.7v1.7h-1.7zM192.89 261.85h1.7v1.7h-1.7zM195.40 263.98h1.7v1.7h-1.7zM217.33 266.23h1.7v1.7h-1.7zM195.40 277.26h1.7v1.7h-1.7z"/>
<line x1="30.4" y1="246.7" x2="230.9" y2="256.2" stroke="#0a0a0a" stroke-width="1.35"/>
</g>
<g id="panel5" style="font-size:6.1px">
<path d="M253.65 184.3V303.7" stroke="#777" stroke-width="1.0" fill="none"/>
<path d="M253.15 303.4H463.9" stroke="#777" stroke-width="1.0" fill="none"/>
<text class="k" x="252.3" y="198.93" transform="rotate(0.02 252.3 198.93)" text-anchor="end">70</text>
<text class="k" x="252.3" y="216.90" transform="rotate(0.02 252.3 216.90)" text-anchor="end">60</text>
<text class="k" x="252.3" y="234.87" transform="rotate(0.02 252.3 234.87)" text-anchor="end">50</text>
<text class="k" x="252.3" y="252.83" transform="rotate(0.02 252.3 252.83)" text-anchor="end">40</text>
<text class="k" x="252.3" y="270.80" transform="rotate(0.02 252.3 270.80)" text-anchor="end">30</text>
<text class="k" x="252.3" y="288.77" transform="rotate(0.02 252.3 288.77)" text-anchor="end">20</text>
<text class="k" x="252.3" y="306.73" transform="rotate(0.02 252.3 306.73)" text-anchor="end">10</text>
<text class="k" x="265.0" y="310.33" transform="rotate(0.02 265.0 310.33)" text-anchor="middle">−4.0</text>
<text class="k" x="323.7" y="310.33" transform="rotate(0.02 323.7 310.33)" text-anchor="middle">−2.0</text>
<text class="k" x="382.1" y="310.33" transform="rotate(0.02 382.1 310.33)" text-anchor="middle">.0</text>
<text class="k" x="440.2" y="310.33" transform="rotate(0.02 440.2 310.33)" text-anchor="middle">2.0</text>
<path class="p" fill="#000" d="M328.05 223.58h1.7v1.7h-1.7zM359.14 225.08h1.7v1.7h-1.7zM309.25 230.85h1.7v1.7h-1.7zM319.28 241.13h1.7v1.7h-1.7zM321.78 244.01h1.7v1.7h-1.7zM327.17 243.38h1.7v1.7h-1.7zM340.33 241.75h1.7v1.7h-1.7zM350.99 246.14h1.7v1.7h-1.7zM321.16 248.02h1.7v1.7h-1.7zM353.12 248.65h1.7v1.7h-1.7zM384.09 206.41h1.7v1.7h-1.7zM390.73 248.65h1.7v1.7h-1.7zM422.07 248.65h1.7v1.7h-1.7zM359.14 252.66h1.7v1.7h-1.7zM327.17 258.18h1.7v1.7h-1.7zM335.19 257.67h1.7v1.7h-1.7zM350.99 258.30h1.7v1.7h-1.7zM340.33 262.31h1.7v1.7h-1.7zM340.33 264.82h1.7v1.7h-1.7zM343.09 264.82h1.7v1.7h-1.7zM343.09 266.70h1.7v1.7h-1.7zM346.60 265.19h1.7v1.7h-1.7zM350.99 261.68h1.7v1.7h-1.7zM350.99 264.82h1.7v1.7h-1.7zM355.00 265.45h1.7v1.7h-1.7zM356.88 264.19h1.7v1.7h-1.7zM327.17 268.58h1.7v1.7h-1.7zM334.32 267.95h1.7v1.7h-1.7zM335.19 269.21h1.7v1.7h-1.7zM350.99 268.58h1.7v1.7h-1.7zM352.49 269.21h1.7v1.7h-1.7zM359.14 269.83h1.7v1.7h-1.7zM359.14 271.71h1.7v1.7h-1.7zM311.13 272.72h1.7v1.7h-1.7zM315.51 271.96h1.7v1.7h-1.7zM321.78 273.59h1.7v1.7h-1.7zM328.05 272.34h1.7v1.7h-1.7zM335.19 272.34h1.7v1.7h-1.7zM335.19 274.22h1.7v1.7h-1.7zM343.09 271.71h1.7v1.7h-1.7zM340.33 274.22h1.7v1.7h-1.7zM340.33 276.73h1.7v1.7h-1.7zM353.12 274.22h1.7v1.7h-1.7zM359.14 274.85h1.7v1.7h-1.7zM359.14 276.73h1.7v1.7h-1.7zM359.14 278.61h1.7v1.7h-1.7zM359.14 280.49h1.7v1.7h-1.7zM359.14 282.99h1.7v1.7h-1.7zM359.14 284.87h1.7v1.7h-1.7zM359.14 286.75h1.7v1.7h-1.7zM359.14 289.51h1.7v1.7h-1.7zM350.99 276.73h1.7v1.7h-1.7zM315.51 276.73h1.7v1.7h-1.7zM309.25 278.23h1.7v1.7h-1.7zM295.71 278.98h1.7v1.7h-1.7zM322.41 278.98h1.7v1.7h-1.7zM335.19 278.98h1.7v1.7h-1.7zM343.09 278.61h1.7v1.7h-1.7zM346.60 279.23h1.7v1.7h-1.7zM346.60 281.11h1.7v1.7h-1.7zM348.73 279.23h1.7v1.7h-1.7zM350.99 281.11h1.7v1.7h-1.7zM350.99 282.99h1.7v1.7h-1.7zM350.99 284.87h1.7v1.7h-1.7zM350.99 286.13h1.7v1.7h-1.7zM355.00 282.37h1.7v1.7h-1.7zM306.49 282.74h1.7v1.7h-1.7zM312.38 283.62h1.7v1.7h-1.7zM310.50 286.38h1.7v1.7h-1.7zM327.17 283.62h1.7v1.7h-1.7zM328.05 286.13h1.7v1.7h-1.7zM340.33 285.25h1.7v1.7h-1.7zM343.09 285.25h1.7v1.7h-1.7zM344.34 284.25h1.7v1.7h-1.7zM346.60 286.75h1.7v1.7h-1.7zM353.12 284.25h1.7v1.7h-1.7zM356.88 288.01h1.7v1.7h-1.7zM360.64 284.25h1.7v1.7h-1.7zM335.19 289.64h1.7v1.7h-1.7zM350.99 289.26h1.7v1.7h-1.7zM384.09 251.91h1.7v1.7h-1.7zM390.98 256.04h1.7v1.7h-1.7zM405.40 256.04h1.7v1.7h-1.7zM409.16 257.30h1.7v1.7h-1.7zM406.65 258.55h1.7v1.7h-1.7zM406.65 261.68h1.7v1.7h-1.7zM422.32 257.30h1.7v1.7h-1.7zM422.32 260.18h1.7v1.7h-1.7zM412.92 260.18h1.7v1.7h-1.7zM415.42 261.06h1.7v1.7h-1.7zM367.16 260.18h1.7v1.7h-1.7zM372.18 261.06h1.7v1.7h-1.7zM372.18 262.94h1.7v1.7h-1.7zM374.68 258.93h1.7v1.7h-1.7zM374.68 261.68h1.7v1.7h-1.7zM409.16 264.82h1.7v1.7h-1.7zM414.17 266.70h1.7v1.7h-1.7zM398.88 264.82h1.7v1.7h-1.7zM400.76 266.70h1.7v1.7h-1.7zM438.36 265.82h1.7v1.7h-1.7zM423.19 268.20h1.7v1.7h-1.7zM365.66 264.82h1.7v1.7h-1.7zM367.16 265.45h1.7v1.7h-1.7zM365.66 268.58h1.7v1.7h-1.7zM367.16 269.21h1.7v1.7h-1.7zM365.66 271.71h1.7v1.7h-1.7zM367.16 277.98h1.7v1.7h-1.7zM367.16 279.86h1.7v1.7h-1.7zM367.16 281.74h1.7v1.7h-1.7zM367.16 283.62h1.7v1.7h-1.7zM365.28 278.61h1.7v1.7h-1.7zM365.28 282.99h1.7v1.7h-1.7zM365.66 289.26h1.7v1.7h-1.7zM367.16 291.14h1.7v1.7h-1.7zM372.18 264.82h1.7v1.7h-1.7zM372.18 267.33h1.7v1.7h-1.7zM372.18 269.83h1.7v1.7h-1.7zM372.18 273.59h1.7v1.7h-1.7zM370.92 279.23h1.7v1.7h-1.7zM372.18 281.11h1.7v1.7h-1.7zM372.18 282.99h1.7v1.7h-1.7zM370.92 285.50h1.7v1.7h-1.7zM369.04 267.95h1.7v1.7h-1.7zM374.68 267.95h1.7v1.7h-1.7zM374.68 271.09h1.7v1.7h-1.7zM374.68 272.97h1.7v1.7h-1.7zM374.68 274.85h1.7v1.7h-1.7zM374.68 278.61h1.7v1.7h-1.7zM374.68 280.49h1.7v1.7h-1.7zM374.68 282.37h1.7v1.7h-1.7zM374.68 284.25h1.7v1.7h-1.7zM374.68 289.26h1.7v1.7h-1.7zM377.82 274.85h1.7v1.7h-1.7zM377.82 278.61h1.7v1.7h-1.7zM377.82 281.11h1.7v1.7h-1.7zM376.57 282.99h1.7v1.7h-1.7zM384.09 264.19h1.7v1.7h-1.7zM384.09 266.07h1.7v1.7h-1.7zM384.09 269.21h1.7v1.7h-1.7zM384.09 271.09h1.7v1.7h-1.7zM384.09 272.97h1.7v1.7h-1.7zM384.09 274.85h1.7v1.7h-1.7zM382.21 270.46h1.7v1.7h-1.7zM382.21 279.23h1.7v1.7h-1.7zM382.21 281.74h1.7v1.7h-1.7zM382.83 284.25h1.7v1.7h-1.7zM382.83 286.75h1.7v1.7h-1.7zM384.09 278.61h1.7v1.7h-1.7zM384.09 286.13h1.7v1.7h-1.7zM385.34 287.38h1.7v1.7h-1.7zM382.83 289.89h1.7v1.7h-1.7zM380.95 279.86h1.7v1.7h-1.7zM390.98 265.45h1.7v1.7h-1.7zM390.98 268.58h1.7v1.7h-1.7zM390.98 271.09h1.7v1.7h-1.7zM390.98 273.59h1.7v1.7h-1.7zM390.98 275.47h1.7v1.7h-1.7zM390.98 277.35h1.7v1.7h-1.7zM390.98 279.23h1.7v1.7h-1.7zM390.98 281.11h1.7v1.7h-1.7zM390.98 282.99h1.7v1.7h-1.7zM390.98 284.87h1.7v1.7h-1.7zM389.10 279.23h1.7v1.7h-1.7zM392.23 281.99h1.7v1.7h-1.7zM390.98 289.89h1.7v1.7h-1.7zM387.22 284.25h1.7v1.7h-1.7zM397.25 271.09h1.7v1.7h-1.7zM398.88 269.21h1.7v1.7h-1.7zM397.25 274.22h1.7v1.7h-1.7zM398.88 274.85h1.7v1.7h-1.7zM397.25 276.73h1.7v1.7h-1.7zM398.88 277.35h1.7v1.7h-1.7zM397.25 279.23h1.7v1.7h-1.7zM398.88 279.86h1.7v1.7h-1.7zM398.88 281.99h1.7v1.7h-1.7zM397.25 284.25h1.7v1.7h-1.7zM398.88 284.87h1.7v1.7h-1.7zM397.25 286.50h1.7v1.7h-1.7zM400.76 286.75h1.7v1.7h-1.7zM398.88 292.77h1.7v1.7h-1.7zM402.64 289.89h1.7v1.7h-1.7zM402.64 269.21h1.7v1.7h-1.7zM402.64 273.59h1.7v1.7h-1.7zM402.64 279.86h1.7v1.7h-1.7zM402.64 282.37h1.7v1.7h-1.7zM404.77 279.23h1.7v1.7h-1.7zM404.77 282.37h1.7v1.7h-1.7zM406.65 274.85h1.7v1.7h-1.7zM406.65 277.98h1.7v1.7h-1.7zM406.65 279.86h1.7v1.7h-1.7zM406.65 282.37h1.7v1.7h-1.7zM409.16 273.59h1.7v1.7h-1.7zM409.16 279.86h1.7v1.7h-1.7zM405.40 284.25h1.7v1.7h-1.7zM409.16 286.13h1.7v1.7h-1.7zM412.92 276.10h1.7v1.7h-1.7zM415.42 274.22h1.7v1.7h-1.7zM415.42 276.10h1.7v1.7h-1.7zM412.92 282.99h1.7v1.7h-1.7zM414.17 284.25h1.7v1.7h-1.7zM415.42 285.50h1.7v1.7h-1.7zM415.42 286.75h1.7v1.7h-1.7zM418.56 271.71h1.7v1.7h-1.7zM422.32 274.22h1.7v1.7h-1.7zM422.32 276.10h1.7v1.7h-1.7zM422.32 279.23h1.7v1.7h-1.7zM421.06 281.74h1.7v1.7h-1.7zM422.32 282.37h1.7v1.7h-1.7zM422.32 284.87h1.7v1.7h-1.7zM422.32 286.75h1.7v1.7h-1.7zM421.69 289.26h1.7v1.7h-1.7zM428.33 274.85h1.7v1.7h-1.7zM428.33 279.23h1.7v1.7h-1.7zM428.33 282.37h1.7v1.7h-1.7zM430.46 285.50h1.7v1.7h-1.7zM434.23 279.61h1.7v1.7h-1.7zM438.36 278.98h1.7v1.7h-1.7zM440.49 278.98h1.7v1.7h-1.7zM438.36 283.62h1.7v1.7h-1.7zM454.19 278.61h1.7v1.7h-1.7zM454.19 280.49h1.7v1.7h-1.7zM454.19 286.50h1.7v1.7h-1.7zM365.91 278.91h1.7v1.7h-1.7zM365.91 280.78h1.7v1.7h-1.7zM365.91 282.66h1.7v1.7h-1.7zM367.47 279.53h1.7v1.7h-1.7zM367.47 281.41h1.7v1.7h-1.7zM367.47 283.29h1.7v1.7h-1.7zM369.03 277.65h1.7v1.7h-1.7zM369.16 279.03h1.7v1.7h-1.7zM372.79 278.59h1.7v1.7h-1.7zM372.79 280.47h1.7v1.7h-1.7zM372.92 282.35h1.7v1.7h-1.7zM376.42 279.53h1.7v1.7h-1.7zM376.86 281.41h1.7v1.7h-1.7zM377.17 283.29h1.7v1.7h-1.7zM378.92 278.59h1.7v1.7h-1.7zM379.36 280.47h1.7v1.7h-1.7zM383.12 281.41h1.7v1.7h-1.7zM383.43 283.29h1.7v1.7h-1.7zM383.74 285.16h1.7v1.7h-1.7zM386.25 277.97h1.7v1.7h-1.7zM386.56 279.84h1.7v1.7h-1.7zM386.87 281.72h1.7v1.7h-1.7zM387.50 283.29h1.7v1.7h-1.7zM390.44 277.97h1.7v1.7h-1.7zM391.07 286.10h1.7v1.7h-1.7zM393.76 281.10h1.7v1.7h-1.7zM394.38 282.66h1.7v1.7h-1.7zM396.45 278.59h1.7v1.7h-1.7zM396.70 281.41h1.7v1.7h-1.7zM398.33 277.97h1.7v1.7h-1.7zM398.76 283.29h1.7v1.7h-1.7zM400.45 278.59h1.7v1.7h-1.7zM400.96 280.47h1.7v1.7h-1.7zM403.77 279.84h1.7v1.7h-1.7zM404.08 283.29h1.7v1.7h-1.7z"/>
<line x1="253.6" y1="265.9" x2="463.9" y2="284.0" stroke="#0a0a0a" stroke-width="1.35"/>
</g>
<g id="panel6" style="font-size:6.1px">
<path d="M492.55 184V303.8" stroke="#7a7a7a" stroke-width="1.0" fill="none"/>
<path d="M492.05 303.4H703" stroke="#707070" stroke-width="1.0" fill="none"/>
<text class="k" x="491.2" y="199.08" transform="rotate(0.02 491.2 199.08)" text-anchor="end">4.0</text>
<text class="k" x="491.2" y="226.10" transform="rotate(0.02 491.2 226.10)" text-anchor="end">2.0</text>
<text class="k" x="491.2" y="253.11" transform="rotate(0.02 491.2 253.11)" text-anchor="end">.0</text>
<text class="k" x="491.2" y="280.12" transform="rotate(0.02 491.2 280.12)" text-anchor="end">−2.0</text>
<text class="k" x="491.2" y="307.13" transform="rotate(0.02 491.2 307.13)" text-anchor="end">−4.0</text>
<text class="k" x="503.1" y="310.78" transform="rotate(0.02 503.1 310.78)" text-anchor="middle">−4.0</text>
<text class="k" x="560.5" y="310.78" transform="rotate(0.02 560.5 310.78)" text-anchor="middle">−2.0</text>
<text class="k" x="617.7" y="310.78" transform="rotate(0.02 617.7 310.78)" text-anchor="middle">.0</text>
<text class="k" x="674.7" y="310.78" transform="rotate(0.02 674.7 310.78)" text-anchor="middle">2.0</text>
<path class="p" fill="#000" d="M612.51 203.29h1.7v1.7h-1.7zM564.62 204.41h1.7v1.7h-1.7zM552.34 208.18h1.7v1.7h-1.7zM564.00 220.08h1.7v1.7h-1.7zM587.06 224.22h1.7v1.7h-1.7zM556.10 230.24h1.7v1.7h-1.7zM572.02 229.86h1.7v1.7h-1.7zM572.02 232.74h1.7v1.7h-1.7zM579.54 232.99h1.7v1.7h-1.7zM594.96 228.86h1.7v1.7h-1.7zM594.96 231.99h1.7v1.7h-1.7zM606.62 228.23h1.7v1.7h-1.7zM610.38 229.23h1.7v1.7h-1.7zM608.75 231.49h1.7v1.7h-1.7zM601.23 232.74h1.7v1.7h-1.7zM533.16 236.38h1.7v1.7h-1.7zM547.70 236.13h1.7v1.7h-1.7zM564.00 235.88h1.7v1.7h-1.7zM587.06 235.25h1.7v1.7h-1.7zM588.06 236.50h1.7v1.7h-1.7zM583.05 238.01h1.7v1.7h-1.7zM594.33 236.75h1.7v1.7h-1.7zM594.96 238.63h1.7v1.7h-1.7zM601.23 236.13h1.7v1.7h-1.7zM602.48 237.38h1.7v1.7h-1.7zM606.62 233.62h1.7v1.7h-1.7zM610.38 234.87h1.7v1.7h-1.7zM613.13 233.62h1.7v1.7h-1.7zM610.38 237.38h1.7v1.7h-1.7zM615.64 236.75h1.7v1.7h-1.7zM556.10 239.89h1.7v1.7h-1.7zM572.02 239.51h1.7v1.7h-1.7zM571.14 242.40h1.7v1.7h-1.7zM576.78 242.02h1.7v1.7h-1.7zM587.06 240.51h1.7v1.7h-1.7zM588.06 242.40h1.7v1.7h-1.7zM594.96 241.14h1.7v1.7h-1.7zM598.09 242.40h1.7v1.7h-1.7zM601.23 239.89h1.7v1.7h-1.7zM603.11 240.26h1.7v1.7h-1.7zM602.48 242.40h1.7v1.7h-1.7zM606.62 240.51h1.7v1.7h-1.7zM608.12 238.63h1.7v1.7h-1.7zM610.38 239.89h1.7v1.7h-1.7zM613.13 239.26h1.7v1.7h-1.7zM615.64 240.51h1.7v1.7h-1.7zM558.61 243.27h1.7v1.7h-1.7zM605.61 243.02h1.7v1.7h-1.7zM612.51 242.40h1.7v1.7h-1.7zM615.64 242.40h1.7v1.7h-1.7zM625.67 208.93h1.7v1.7h-1.7zM657.01 221.71h1.7v1.7h-1.7zM688.22 222.34h1.7v1.7h-1.7zM625.92 225.47h1.7v1.7h-1.7zM634.07 227.35h1.7v1.7h-1.7zM640.34 228.61h1.7v1.7h-1.7zM644.10 227.98h1.7v1.7h-1.7zM618.40 227.98h1.7v1.7h-1.7zM657.01 229.86h1.7v1.7h-1.7zM672.68 228.98h1.7v1.7h-1.7zM632.19 229.86h1.7v1.7h-1.7zM635.95 229.86h1.7v1.7h-1.7zM625.92 231.11h1.7v1.7h-1.7zM625.92 232.99h1.7v1.7h-1.7zM625.92 235.50h1.7v1.7h-1.7zM634.07 232.37h1.7v1.7h-1.7zM634.07 234.25h1.7v1.7h-1.7zM638.46 233.62h1.7v1.7h-1.7zM641.59 232.99h1.7v1.7h-1.7zM641.59 235.50h1.7v1.7h-1.7zM622.16 231.74h1.7v1.7h-1.7zM618.40 231.99h1.7v1.7h-1.7zM619.66 233.24h1.7v1.7h-1.7zM618.40 236.13h1.7v1.7h-1.7zM632.19 236.75h1.7v1.7h-1.7zM634.07 238.01h1.7v1.7h-1.7zM637.21 237.38h1.7v1.7h-1.7zM637.83 239.51h1.7v1.7h-1.7zM650.37 236.50h1.7v1.7h-1.7zM649.11 238.63h1.7v1.7h-1.7zM644.10 239.26h1.7v1.7h-1.7zM645.98 239.51h1.7v1.7h-1.7zM642.85 240.89h1.7v1.7h-1.7zM657.01 236.75h1.7v1.7h-1.7zM662.28 236.38h1.7v1.7h-1.7zM674.43 237.38h1.7v1.7h-1.7zM668.29 240.77h1.7v1.7h-1.7zM618.40 239.26h1.7v1.7h-1.7zM619.66 240.51h1.7v1.7h-1.7zM625.92 241.14h1.7v1.7h-1.7zM625.92 243.02h1.7v1.7h-1.7zM622.79 243.02h1.7v1.7h-1.7zM632.19 242.77h1.7v1.7h-1.7zM634.07 243.65h1.7v1.7h-1.7zM637.21 243.02h1.7v1.7h-1.7zM644.10 243.27h1.7v1.7h-1.7zM650.37 242.40h1.7v1.7h-1.7zM656.01 243.27h1.7v1.7h-1.7zM641.59 243.65h1.7v1.7h-1.7zM571.77 244.78h1.7v1.7h-1.7zM571.77 246.41h1.7v1.7h-1.7zM576.78 247.28h1.7v1.7h-1.7zM583.05 245.40h1.7v1.7h-1.7zM587.06 246.03h1.7v1.7h-1.7zM587.06 248.54h1.7v1.7h-1.7zM591.20 247.91h1.7v1.7h-1.7zM594.96 246.03h1.7v1.7h-1.7zM594.96 247.91h1.7v1.7h-1.7zM594.96 249.79h1.7v1.7h-1.7zM601.23 244.78h1.7v1.7h-1.7zM601.23 246.66h1.7v1.7h-1.7zM601.23 248.54h1.7v1.7h-1.7zM606.62 247.28h1.7v1.7h-1.7zM606.62 249.16h1.7v1.7h-1.7zM610.38 246.03h1.7v1.7h-1.7zM613.13 246.03h1.7v1.7h-1.7zM580.54 249.16h1.7v1.7h-1.7zM610.38 249.79h1.7v1.7h-1.7zM615.64 249.79h1.7v1.7h-1.7zM557.73 252.67h1.7v1.7h-1.7zM564.00 254.18h1.7v1.7h-1.7zM579.29 252.67h1.7v1.7h-1.7zM583.05 252.67h1.7v1.7h-1.7zM587.06 252.30h1.7v1.7h-1.7zM587.06 254.80h1.7v1.7h-1.7zM594.96 252.30h1.7v1.7h-1.7zM594.96 254.18h1.7v1.7h-1.7zM601.23 253.18h1.7v1.7h-1.7zM608.12 254.80h1.7v1.7h-1.7zM610.38 255.18h1.7v1.7h-1.7zM613.13 255.18h1.7v1.7h-1.7zM543.94 256.06h1.7v1.7h-1.7zM549.58 257.06h1.7v1.7h-1.7zM564.62 258.94h1.7v1.7h-1.7zM576.78 256.06h1.7v1.7h-1.7zM576.78 257.94h1.7v1.7h-1.7zM583.05 257.06h1.7v1.7h-1.7zM584.93 257.31h1.7v1.7h-1.7zM587.06 258.94h1.7v1.7h-1.7zM594.96 257.31h1.7v1.7h-1.7zM594.96 259.19h1.7v1.7h-1.7zM596.84 260.45h1.7v1.7h-1.7zM601.23 256.68h1.7v1.7h-1.7zM601.23 258.57h1.7v1.7h-1.7zM603.11 256.06h1.7v1.7h-1.7zM604.99 259.19h1.7v1.7h-1.7zM607.49 258.57h1.7v1.7h-1.7zM610.38 260.45h1.7v1.7h-1.7zM610.38 262.33h1.7v1.7h-1.7zM610.38 264.21h1.7v1.7h-1.7zM610.38 266.09h1.7v1.7h-1.7zM559.23 262.95h1.7v1.7h-1.7zM558.23 266.09h1.7v1.7h-1.7zM580.92 263.96h1.7v1.7h-1.7zM594.96 263.58h1.7v1.7h-1.7zM603.11 262.95h1.7v1.7h-1.7zM603.11 264.83h1.7v1.7h-1.7zM603.11 266.71h1.7v1.7h-1.7zM601.23 266.09h1.7v1.7h-1.7zM604.99 266.09h1.7v1.7h-1.7zM589.07 267.34h1.7v1.7h-1.7zM593.08 266.71h1.7v1.7h-1.7zM594.33 267.97h1.7v1.7h-1.7zM546.07 269.60h1.7v1.7h-1.7zM552.34 268.97h1.7v1.7h-1.7zM564.00 269.60h1.7v1.7h-1.7zM591.20 270.85h1.7v1.7h-1.7zM594.96 270.85h1.7v1.7h-1.7zM601.23 270.47h1.7v1.7h-1.7zM601.23 272.35h1.7v1.7h-1.7zM601.23 274.23h1.7v1.7h-1.7zM603.11 268.59h1.7v1.7h-1.7zM606.62 268.97h1.7v1.7h-1.7zM614.39 268.97h1.7v1.7h-1.7zM614.39 273.61h1.7v1.7h-1.7zM548.58 275.24h1.7v1.7h-1.7zM594.96 274.86h1.7v1.7h-1.7zM610.63 277.99h1.7v1.7h-1.7zM546.07 281.75h1.7v1.7h-1.7zM549.58 284.51h1.7v1.7h-1.7zM579.29 284.01h1.7v1.7h-1.7zM594.96 284.01h1.7v1.7h-1.7zM618.40 246.03h1.7v1.7h-1.7zM620.28 246.66h1.7v1.7h-1.7zM622.79 246.03h1.7v1.7h-1.7zM625.92 244.78h1.7v1.7h-1.7zM625.92 246.66h1.7v1.7h-1.7zM625.92 248.54h1.7v1.7h-1.7zM625.92 250.42h1.7v1.7h-1.7zM625.92 252.30h1.7v1.7h-1.7zM625.92 254.18h1.7v1.7h-1.7zM632.19 245.40h1.7v1.7h-1.7zM634.07 244.78h1.7v1.7h-1.7zM634.07 246.66h1.7v1.7h-1.7zM634.07 248.54h1.7v1.7h-1.7zM634.07 250.42h1.7v1.7h-1.7zM634.07 252.30h1.7v1.7h-1.7zM637.83 245.65h1.7v1.7h-1.7zM639.71 245.40h1.7v1.7h-1.7zM647.86 246.66h1.7v1.7h-1.7zM649.49 247.91h1.7v1.7h-1.7zM656.01 245.40h1.7v1.7h-1.7zM657.01 246.41h1.7v1.7h-1.7zM662.28 246.41h1.7v1.7h-1.7zM665.41 246.03h1.7v1.7h-1.7zM662.28 249.16h1.7v1.7h-1.7zM688.22 246.41h1.7v1.7h-1.7zM688.22 248.54h1.7v1.7h-1.7zM643.47 249.79h1.7v1.7h-1.7zM618.40 252.30h1.7v1.7h-1.7zM618.40 256.06h1.7v1.7h-1.7zM619.41 257.31h1.7v1.7h-1.7zM622.16 252.92h1.7v1.7h-1.7zM629.68 252.92h1.7v1.7h-1.7zM630.94 251.92h1.7v1.7h-1.7zM637.83 252.30h1.7v1.7h-1.7zM637.83 254.18h1.7v1.7h-1.7zM641.59 253.93h1.7v1.7h-1.7zM644.10 253.55h1.7v1.7h-1.7zM644.10 255.43h1.7v1.7h-1.7zM639.71 256.68h1.7v1.7h-1.7zM647.86 252.92h1.7v1.7h-1.7zM654.13 252.92h1.7v1.7h-1.7zM657.01 254.80h1.7v1.7h-1.7zM664.78 252.67h1.7v1.7h-1.7zM672.68 251.42h1.7v1.7h-1.7zM675.06 255.18h1.7v1.7h-1.7zM650.37 256.43h1.7v1.7h-1.7zM647.86 258.19h1.7v1.7h-1.7zM628.43 256.68h1.7v1.7h-1.7zM632.19 256.68h1.7v1.7h-1.7zM634.07 255.18h1.7v1.7h-1.7zM625.92 259.19h1.7v1.7h-1.7zM625.92 261.07h1.7v1.7h-1.7zM625.92 262.95h1.7v1.7h-1.7zM627.80 261.70h1.7v1.7h-1.7zM637.83 259.82h1.7v1.7h-1.7zM641.59 261.07h1.7v1.7h-1.7zM641.59 262.95h1.7v1.7h-1.7zM641.59 264.83h1.7v1.7h-1.7zM649.49 262.33h1.7v1.7h-1.7zM653.75 261.70h1.7v1.7h-1.7zM672.68 263.83h1.7v1.7h-1.7zM675.06 262.95h1.7v1.7h-1.7zM632.19 265.46h1.7v1.7h-1.7zM618.40 267.34h1.7v1.7h-1.7zM634.07 268.59h1.7v1.7h-1.7zM634.07 270.47h1.7v1.7h-1.7zM641.59 267.97h1.7v1.7h-1.7zM641.59 269.85h1.7v1.7h-1.7zM649.49 267.34h1.7v1.7h-1.7zM649.49 269.85h1.7v1.7h-1.7zM649.49 271.48h1.7v1.7h-1.7zM657.64 267.34h1.7v1.7h-1.7zM625.92 269.60h1.7v1.7h-1.7zM656.01 273.61h1.7v1.7h-1.7zM620.28 274.86h1.7v1.7h-1.7zM619.41 277.99h1.7v1.7h-1.7zM631.94 277.37h1.7v1.7h-1.7zM657.01 281.50h1.7v1.7h-1.7zM674.43 281.75h1.7v1.7h-1.7zM635.95 283.89h1.7v1.7h-1.7zM564.34 289.56h1.7v1.7h-1.7zM601.25 294.49h1.7v1.7h-1.7zM602.48 300.64h1.7v1.7h-1.7zM657.12 292.02h1.7v1.7h-1.7zM601.06 237.03h1.7v1.7h-1.7zM602.93 238.91h1.7v1.7h-1.7zM601.37 240.78h1.7v1.7h-1.7zM601.06 244.54h1.7v1.7h-1.7zM601.37 246.73h1.7v1.7h-1.7zM601.68 248.61h1.7v1.7h-1.7zM606.69 247.04h1.7v1.7h-1.7zM607.00 248.61h1.7v1.7h-1.7zM608.25 238.28h1.7v1.7h-1.7zM610.44 239.53h1.7v1.7h-1.7zM610.44 243.29h1.7v1.7h-1.7zM610.44 245.16h1.7v1.7h-1.7zM610.44 246.73h1.7v1.7h-1.7zM613.26 239.53h1.7v1.7h-1.7zM613.26 241.10h1.7v1.7h-1.7zM613.26 246.42h1.7v1.7h-1.7zM616.70 237.65h1.7v1.7h-1.7zM618.27 239.53h1.7v1.7h-1.7zM619.21 241.41h1.7v1.7h-1.7zM619.21 243.91h1.7v1.7h-1.7zM619.83 246.10h1.7v1.7h-1.7zM621.71 246.73h1.7v1.7h-1.7zM613.26 251.11h1.7v1.7h-1.7zM610.44 251.42h1.7v1.7h-1.7zM607.63 251.11h1.7v1.7h-1.7z"/>
<line x1="492.4" y1="252.9" x2="703" y2="248.8" stroke="#0a0a0a" stroke-width="1.35"/>
</g>
<text class="t" transform="rotate(0.02 56.5 20.35)" x="56.5" y="20.35" textLength="142.4" lengthAdjust="spacingAndGlyphs">Health symptoms (z-score)</text>
<text class="t" transform="rotate(0.02 322.9 19.8)" x="322.9" y="19.8" textLength="90.4" lengthAdjust="spacingAndGlyphs">Body mass index</text>
<text class="t" transform="rotate(0.02 554.8 19.25)" x="554.8" y="19.25" textLength="74.9" lengthAdjust="spacingAndGlyphs">sIgA (z-score)</text>
<text class="t" transform="rotate(0.02 311.3 343.0)" x="311.3" y="343.0" textLength="110.1" lengthAdjust="spacingAndGlyphs">Mate Value (z-score)</text>
<text class="t" transform="translate(14.4 84.7) rotate(-90)" textLength="28.5" lengthAdjust="spacingAndGlyphs">MEN</text>
<text class="t" transform="translate(15.0 277.9) rotate(-90)" textLength="49.6" lengthAdjust="spacingAndGlyphs">WOMEN</text>
</svg></body></html>
